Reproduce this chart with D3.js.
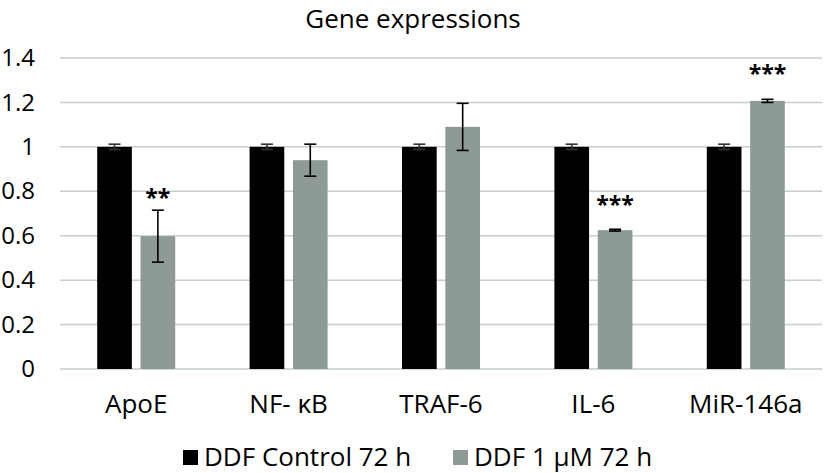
<!DOCTYPE html>
<html>
<head>
<meta charset="utf-8">
<script src="https://cdn.jsdelivr.net/npm/d3@7"></script>
<style>
  body { margin: 0; background: #fff; }
  svg { display: block; font-family: "Open Sans", sans-serif; }
</style>
</head>
<body>
<div id="chart"></div>
<script>
const genes = ["ApoE", "NF- \u03baB", "TRAF-6", "IL-6", "MiR-146a"];
const seriesNames = ["DDF Control 72 h", "DDF 1 \u03bcM 72 h"];
const controlValues = [1, 1, 1, 1, 1];
const controlErrors = [0.012, 0.012, 0.012, 0.012, 0.012];
const treatedValues = [0.598, 0.94, 1.09, 0.625, 1.207];
const treatedErrors = [0.117, 0.072, 0.106, 0.004, 0.007];
const stars = [
  { gene: "ApoE", label: "**", at: 0.8 },
  { gene: "IL-6", label: "***", at: 0.765 },
  { gene: "MiR-146a", label: "***", at: 1.355 }
];
const yTicks = [0, 0.2, 0.4, 0.6, 0.8, 1, 1.2, 1.4];
const colors = ["#000000", "#8d9a97"];

const width = 825, height = 473;
const margin = { top: 58, right: 3, bottom: 104, left: 60 };
const innerW = width - margin.left - margin.right;
const innerH = height - margin.top - margin.bottom;
const fontSize = 26;

const svg = d3.select("#chart").append("svg")
    .attr("width", width)
    .attr("height", height);

const g = svg.append("g")
    .attr("transform", `translate(${margin.left},${margin.top})`);

const x0 = d3.scaleBand().domain(genes).range([0, innerW]).paddingInner(0.488).paddingOuter(0.244);
const x1 = d3.scaleBand().domain([0, 1]).range([0, x0.bandwidth()]).paddingInner(0.2);
const y = d3.scaleLinear().domain([0, 1.4]).range([innerH, 0]);

// gridlines
g.append("g")
    .selectAll("line")
    .data(yTicks)
    .enter().append("line")
    .attr("x1", 0)
    .attr("x2", innerW)
    .attr("y1", d => y(d))
    .attr("y2", d => y(d))
    .attr("stroke", "#c5cfcc")
    .attr("stroke-width", 1.5);

// y axis labels
const yAxis = g.append("g")
    .call(d3.axisLeft(y).tickValues(yTicks).tickSize(0).tickPadding(25).tickFormat(d => d3.format("")(+d.toFixed(1))));
yAxis.select(".domain").remove();
yAxis.selectAll("text")
    .attr("font-size", 24)
    .attr("font-family", "Open Sans, sans-serif")
    .attr("fill", "#000");

const rows = genes.map((gene, i) => ({
    gene,
    bars: [
        { s: 0, v: controlValues[i], e: controlErrors[i] },
        { s: 1, v: treatedValues[i], e: treatedErrors[i] }
    ]
}));

const groups = g.selectAll(".grp")
    .data(rows)
    .enter().append("g")
    .attr("transform", d => `translate(${x0(d.gene)},0)`);

groups.selectAll("rect")
    .data(d => d.bars)
    .enter().append("rect")
    .attr("x", d => x1(d.s))
    .attr("width", x1.bandwidth())
    .attr("y", d => y(d.v))
    .attr("height", d => innerH - y(d.v))
    .attr("fill", d => colors[d.s]);

// error bars
const err = groups.selectAll(".err")
    .data(d => d.bars)
    .enter().append("g")
    .attr("stroke", d => d.s === 0 ? "#333" : "#000")
    .attr("stroke-width", 1.6);

const cx = d => x1(d.s) + x1.bandwidth() / 2;
err.append("line")
    .attr("x1", cx).attr("x2", cx)
    .attr("y1", d => y(d.v + d.e)).attr("y2", d => y(d.v - d.e));
err.append("line")
    .attr("x1", d => cx(d) - 6).attr("x2", d => cx(d) + 6)
    .attr("y1", d => y(d.v + d.e)).attr("y2", d => y(d.v + d.e));
err.append("line")
    .attr("x1", d => cx(d) - 6).attr("x2", d => cx(d) + 6)
    .attr("y1", d => y(d.v - d.e)).attr("y2", d => y(d.v - d.e));

// significance stars
g.selectAll(".star")
    .data(stars)
    .enter().append("text")
    .attr("x", d => x0(d.gene) + x1(1) + x1.bandwidth() / 2)
    .attr("y", d => y(d.at))
    .attr("dy", "0.62em")
    .attr("text-anchor", "middle")
    .attr("font-size", 23)
    .attr("font-weight", "bold")
    .text(d => d.label);

// x axis labels
const xAxis = g.append("g")
    .attr("transform", `translate(0,${innerH})`)
    .call(d3.axisBottom(x0).tickSize(0).tickPadding(26));
xAxis.select(".domain").remove();
xAxis.selectAll("text")
    .attr("font-size", fontSize)
    .attr("font-family", "Open Sans, sans-serif")
    .attr("fill", "#000");

// title
svg.append("text")
    .attr("x", 413)
    .attr("y", 28)
    .attr("text-anchor", "middle")
    .attr("font-size", fontSize)
    .text("Gene expressions");

// legend
const legendPos = [183, 453];
const legend = svg.selectAll(".leg")
    .data(seriesNames)
    .enter().append("g")
    .attr("transform", (d, i) => `translate(${legendPos[i]},450)`);
legend.append("rect")
    .attr("width", 15)
    .attr("height", 15)
    .attr("fill", (d, i) => colors[i]);
legend.append("text")
    .attr("x", 21)
    .attr("y", 16)
    .attr("font-size", fontSize)
    .text(d => d);
</script>
</body>
</html>
